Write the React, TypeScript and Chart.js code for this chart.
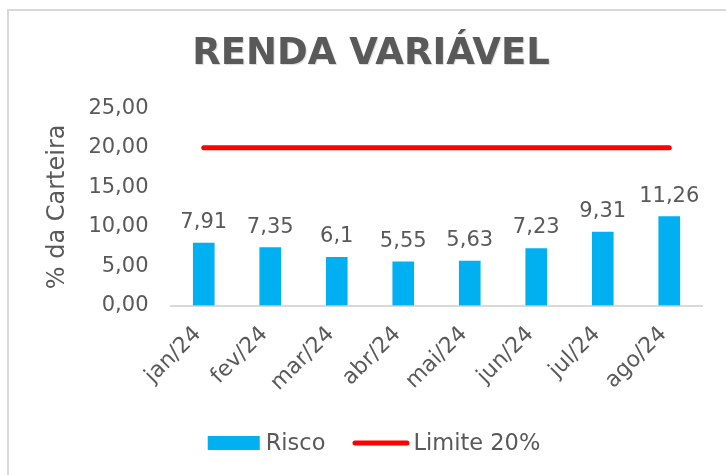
import React, { useEffect, useRef } from "react";
import { Chart, registerables } from "chart.js";

Chart.register(...registerables);

const categories = ["jan/24", "fev/24", "mar/24", "abr/24", "mai/24", "jun/24", "jul/24", "ago/24"];
const riscoValues = [7.91, 7.35, 6.1, 5.55, 5.63, 7.23, 9.31, 11.26];
const limiteValues = [20, 20, 20, 20, 20, 20, 20, 20];
const yTicks = [0, 5, 10, 15, 20, 25];

const FONT = "'DejaVu Sans', sans-serif";
const TEXT = "#595959";
const BAR = "#00B0F0";
const RED = "#FF0000";

const fmt = (v: number) => String(v).replace(".", ",");

const framePlugin = {
  id: "frame",
  beforeDraw(chart: any) {
    const ctx = chart.ctx;
    ctx.save();
    ctx.strokeStyle = "#d9d9d9";
    ctx.lineWidth = 2;
    ctx.beginPath();
    ctx.moveTo(8, 480);
    ctx.lineTo(8, 10);
    ctx.lineTo(730, 10);
    ctx.stroke();
    ctx.restore();
  },
};

const titlePlugin = {
  id: "customTitle",
  afterDraw(chart: any) {
    const ctx = chart.ctx;
    ctx.save();
    ctx.font = `bold 37px ${FONT}`;
    ctx.fillStyle = TEXT;
    ctx.textAlign = "center";
    ctx.textBaseline = "middle";
    ctx.shadowColor = "rgba(0,0,0,0.15)";
    ctx.shadowOffsetX = 1;
    ctx.shadowOffsetY = 1;
    ctx.shadowBlur = 1;
    ctx.fillText("RENDA VARIÁVEL", 371, 54);
    ctx.restore();
  },
};

const labelPlugin = {
  id: "barLabels",
  afterDatasetsDraw(chart: any) {
    const ctx = chart.ctx;
    const meta = chart.getDatasetMeta(0);
    ctx.save();
    ctx.font = `21px ${FONT}`;
    ctx.fillStyle = TEXT;
    ctx.textAlign = "center";
    ctx.textBaseline = "alphabetic";
    meta.data.forEach((bar: any, i: number) => {
      ctx.fillText(fmt(riscoValues[i]), bar.x, bar.y - 15);
    });
    ctx.restore();
  },
};

const legendPlugin = {
  id: "customLegend",
  afterDraw(chart: any) {
    const ctx = chart.ctx;
    const ds = chart.data.datasets;
    ctx.save();
    ctx.font = `22.5px ${FONT}`;
    ctx.textBaseline = "middle";
    ctx.textAlign = "left";
    const y = 443;
    const w0 = ctx.measureText(ds[0].label).width;
    const w1 = ctx.measureText(ds[1].label).width;
    const total = 52 + 6 + w0 + 27 + 57 + 4 + w1;
    let x = 374 - total / 2;
    ctx.fillStyle = BAR;
    ctx.fillRect(x, y - 7, 52, 14);
    x += 58;
    ctx.fillStyle = TEXT;
    ctx.fillText(ds[0].label, x, y + 1);
    x += w0 + 27;
    ctx.strokeStyle = RED;
    ctx.lineWidth = 5;
    ctx.lineCap = "round";
    ctx.beginPath();
    ctx.moveTo(x + 2.5, y);
    ctx.lineTo(x + 54.5, y);
    ctx.stroke();
    x += 61;
    ctx.fillText(ds[1].label, x, y + 1);
    ctx.restore();
  },
};

export default function App() {
  const ref = useRef<HTMLCanvasElement>(null);
  useEffect(() => {
    if (!ref.current) return;
    const chart = new Chart(ref.current, {
      type: "bar",
      data: {
        labels: categories,
        datasets: [
          {
            type: "bar",
            label: "Risco",
            data: riscoValues,
            backgroundColor: BAR,
            barThickness: 21,
            order: 2,
          } as any,
          {
            type: "line",
            label: "Limite 20%",
            data: limiteValues,
            borderColor: RED,
            backgroundColor: RED,
            borderWidth: 5,
            borderCapStyle: "round",
            pointRadius: 0,
            order: 1,
          } as any,
        ],
      },
      options: {
        responsive: false,
        animation: false,
        layout: { padding: { top: 108.3, bottom: 70, left: 8, right: 23.5 } },
        plugins: {
          legend: { display: false },
          title: { display: false },
          tooltip: { enabled: false },
        },
        scales: {
          x: {
            grid: { display: false, drawTicks: false },
            border: { display: true, color: "#d9d9d9", width: 2 },
            ticks: {
              color: TEXT,
              font: { family: FONT, size: 22 },
              minRotation: 45,
              maxRotation: 45,
              padding: 16,
              labelOffset: -6,
            },
            afterFit: (s: any) => {
              s.height = 99.5;
            },
          },
          y: {
            min: 0,
            max: 25,
            afterBuildTicks: (s: any) => {
              s.ticks = yTicks.map((v) => ({ value: v }));
            },
            grid: { display: false, drawTicks: false },
            border: { display: false },
            ticks: {
              color: TEXT,
              font: { family: FONT, size: 21 },
              padding: 22,
              callback: (v: any) => Number(v).toFixed(2).replace(".", ","),
            },
            title: {
              display: true,
              text: "% da Carteira",
              color: TEXT,
              font: { family: FONT, size: 24 },
              padding: { top: 35, bottom: 0 },
            },
            afterFit: (s: any) => {
              s.width = 162.5;
            },
          },
        },
      },
      plugins: [framePlugin, titlePlugin, labelPlugin, legendPlugin],
    });
    return () => chart.destroy();
  }, []);
  return (
    <div style={{ position: "fixed", left: 0, top: 0, width: 726, height: 475, background: "#fff" }}>
      <canvas ref={ref} width={726} height={475} style={{ width: 726, height: 475, display: "block" }} />
    </div>
  );
}
